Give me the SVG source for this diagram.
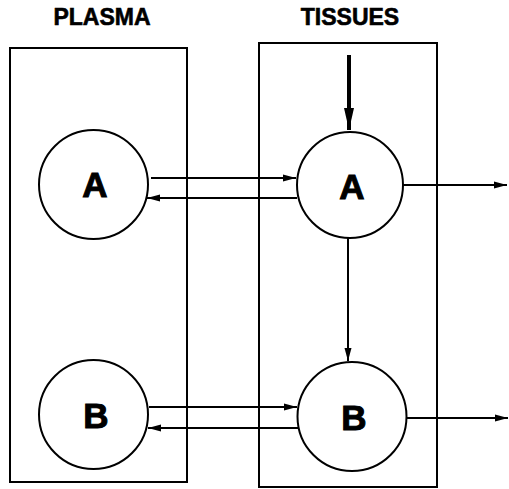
<svg xmlns="http://www.w3.org/2000/svg" width="509" height="489" viewBox="0 0 509 489">
<style>
.box{fill:none;stroke:#000;stroke-width:2}
.c{fill:#fff;stroke:#000;stroke-width:2}
.t{font-family:"Liberation Sans",Arial,sans-serif;font-weight:bold;text-anchor:middle;fill:#000;stroke:#000}
.h{font-size:23px;stroke-width:0.6}
.n{font-size:35px;stroke-width:1}
.e{fill:none;stroke:#000;stroke-width:2}
</style>
<defs>
<marker id="ar" markerUnits="userSpaceOnUse" markerWidth="14" markerHeight="10" refX="13" refY="5" orient="auto">
<path d="M0,1.5 L13,5 L0,8.5 Z" fill="#000"/>
</marker>
<marker id="arb" markerUnits="userSpaceOnUse" markerWidth="24" markerHeight="14" refX="22" refY="6" orient="auto">
<path d="M0,1 L22,6 L0,11 Z" fill="#000"/>
</marker>
</defs>
<g id="plasma">
<rect class="box" x="10" y="48" width="177" height="434"/>
<text class="t h" x="102" y="25">PLASMA</text>
</g>
<g id="tissues">
<rect class="box" x="259" y="43" width="178" height="444"/>
<text class="t h" x="350" y="25">TISSUES</text>
</g>
<g id="connectors">
<line class="e" x1="151" y1="178" x2="296" y2="178" marker-end="url(#ar)"/>
<line class="e" x1="297" y1="198" x2="147" y2="198" marker-end="url(#ar)"/>
<line class="e" x1="149" y1="407" x2="297" y2="407" marker-end="url(#ar)"/>
<line class="e" x1="299" y1="428" x2="148" y2="428" marker-end="url(#ar)"/>
<line class="e" x1="403" y1="185" x2="507" y2="185" marker-end="url(#ar)"/>
<line class="e" x1="406" y1="418" x2="508" y2="418" marker-end="url(#ar)"/>
<line class="e" x1="348" y1="238" x2="348" y2="361" marker-end="url(#ar)"/>
<line x1="349" y1="55" x2="349" y2="130" stroke="#000" stroke-width="4" marker-end="url(#arb)"/>
</g>
<g id="plasmaA">
<circle class="c" cx="93.5" cy="184.5" r="54.5"/>
<text class="t n" x="95" y="197">A</text>
</g>
<g id="plasmaB">
<circle class="c" cx="93.5" cy="414.5" r="54.5"/>
<text class="t n" x="96" y="428">B</text>
</g>
<g id="tissuesA">
<circle class="c" cx="350" cy="185" r="53"/>
<text class="t n" x="352" y="199">A</text>
</g>
<g id="tissuesB">
<circle class="c" cx="352" cy="416.5" r="54.5"/>
<text class="t n" x="354" y="430">B</text>
</g>
</svg>
